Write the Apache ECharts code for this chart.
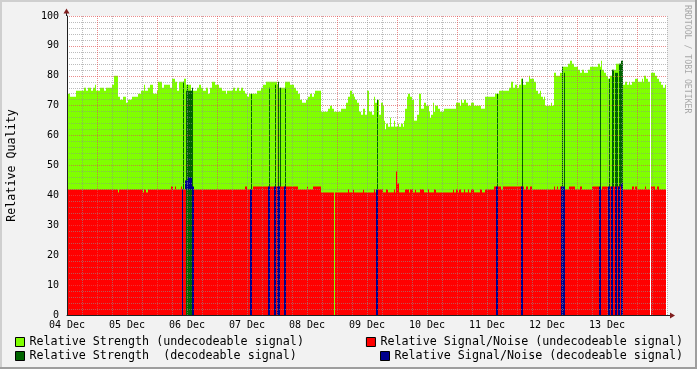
<!DOCTYPE html>
<html><head><meta charset="utf-8">
<script src="https://cdn.jsdelivr.net/npm/echarts@6/dist/echarts.min.js"></script>
<style>html,body{margin:0;padding:0;background:#F2F2F2}#c{width:697px;height:369px}</style>
</head><body><div id="c"></div>
<script>
// x values are hours since 04 Dec 00:00
const dayLabels = ['04 Dec','05 Dec','06 Dec','07 Dec','08 Dec','09 Dec','10 Dec','11 Dec','12 Dec','13 Dec'];
const endHour = 239.6;
const seriesNames = [
  'Relative Strength (undecodeable signal)',
  'Relative Strength  (decodeable signal)',
  'Relative Signal/Noise (undecodeable signal)',
  'Relative Signal/Noise (decodeable signal)'
];
// [hour, value] : value holds until next hour (null = no data)
const strengthSteps = [[0,74],[1.2,73],[3.6,75],[6.8,76],[7.6,75],[8.4,76],[9.6,75],[10.4,76],[11.2,77],[11.6,75],[13.2,76],[14.8,75],[15.6,76],[18,77],[18.8,80],[20.4,73],[21.2,72],[22.4,73],[23.6,71],[24.4,72],[26,73],[28.4,74],[29.6,75],[30.8,77],[31.2,75],[32.4,76],[33.2,77],[34.4,74],[36,75],[36.4,78],[38,76],[38.8,77],[41.2,76],[42,79],[43.2,78],[44,75],[44.8,78],
[46.8,79],[47.6,77],[49.6,75],[52,76],[52.8,77],[53.6,76],[54.4,75],[55.6,76],[56.4,74],[57.2,76],[58,78],[59.2,77],[60.8,76],[62,75],[63.6,74],[64,75],[66.4,76],[67.2,75],[68,76],[68.8,75],[69.6,76],[70.4,75],[71.2,74],[72,73],[72.8,74],[76,75],[77.6,76],[78.4,77],[79.6,78],[84,77],[84.8,76],[87.2,78],[89.2,77],[90.8,76],[91.6,75],[92.4,74],[93.2,72],
[94,71],[95.6,72],[96.4,73],[97.2,74],[98,73],[98.8,74],[99.2,75],[101.6,68],[104.4,69],[105.2,70],[106,69],[106.8,68],[109.6,69],[111.6,71],[112.4,73],[113.2,75],[114,74],[114.8,73],[115.2,72],[116,71],[116.8,68],[117.6,67],[118.4,69],[119.2,67],[120,75],[120.8,68],[122,67],[122.8,73],[123.2,71],[124,72],[124.8,67],[125.6,71],[126.4,70],[126.8,65],[127.2,62],[127.6,64],[128.4,63],[129.2,66],[129.6,63],[130.8,65],[131.2,63],[132.4,64],[132.8,63],[133.6,64],[134.4,63],[134.8,65],[135.2,69],[136,73],[136.4,74],[137.2,73],[138,72],[138.8,65],[140,67],[140.8,74],[141.6,69],[142.8,71],[143.6,70],
[144.8,68],[145.2,66],[145.6,67],[146.4,71],[146.8,68],[147.2,70],[148.4,69],[149.2,68],[150.8,69],[155.6,71],[157.2,70],[157.6,72],[158,71],[158.8,72],[159.6,71],[160.4,70],[161.6,71],[162.8,70],[165.6,69],[167.2,73],[171.2,74],[172.8,75],[176.8,76],[177.6,78],[178.4,76],[179.2,77],[180,76],[180.8,77],[181.6,79],[182.4,77],[183.6,78],[184.8,80],[185.2,79],[186.8,78],[187.6,75],[188.4,74],[189.2,75],[189.6,73],[190.4,72],[190.8,73],[191.2,70],[193.6,71],[194,70],
[194.8,81],[195.6,80],[197.2,81],[198.4,83],[200.4,84],[201.2,85],[202,84],[202.8,83],[204.4,82],[205.2,81],[206,82],[206.8,81],[208.4,82],[209.2,83],[212.4,84],[213.2,83],[213.6,85],[214,82],[214.8,81],[215.6,80],[216.4,79],[217.2,80],[218,82],[219.6,84],[222.4,77],[223.2,78],[224,77],[224.8,78],[225.2,77],[226,78],[227.2,79],[228.4,78],[230,79],[230.4,78],[230.8,80],[231.6,79],[232.4,78],[233.2,null],[233.6,81],[235.2,80],[236,79],[236.8,78],[237.6,77],[238.4,76],[239.2,77]];
const snrSteps = [[0,42],[20.4,41],[20.8,42],[30.4,41],[30.8,42],[31.6,41],[32.4,42],[41.6,43],[42.4,42],[43.2,43],[43.6,42],[45.6,43],[46,42],[47.6,null],[50,42],[71.2,43],[72,42],[74.4,43],[92.4,42],[96,43],[96.4,42],[98.4,43],[101.6,41],[106.8,null],[107.2,41],[112.4,42],[112.8,41],[114.4,42],[114.8,41],[118.4,42],[118.8,41],[122.8,42],[123.2,41],[124.4,42],[126.4,41],[127.6,42],[128.4,41],[130.8,42],[131.2,41],[131.6,48],[132,44],[132.8,41],[135.2,42],[136.8,41],[137.2,42],[138.4,41],[139.2,42],[139.6,41],[141.2,42],[142.8,41],[144.4,42],[144.8,41],[146.8,42],[147.6,41],[154.4,42],[154.8,41],[155.6,42],[156.4,41],[156.8,42],[157.6,41],[158.8,42],[159.2,41],[160.4,42],[160.8,41],[161.6,42],[162.8,41],[165.2,42],[166,41],[167.2,42],[170.8,43],[173.6,42],[174.4,43],[182.8,42],[183.6,43],[184.4,42],[185.2,43],[186,42],[194.8,43],[195.2,42],[196,43],[196.4,42],[197.2,43],[198,42],[200.8,43],[203.2,42],[205.2,43],[206,42],[210,43],[212.8,42],[214,43],[216.4,42],[217.2,43],[222.4,42],[226,43],[226.8,42],[227.2,43],[228,42],[231.2,43],[231.6,42],[233.2,null],[233.6,43],[235.2,42],[236,43],[236.8,42]];
// [startHour, endHour, top]
const decodedStrength = [[46.4,46.8,78],[47.6,50.0,75],[48.0,48.4,77],[50.0,50.4,76],[73.6,74.0,74],[80.8,81.2,76],[83.2,83.6,77],[84.4,84.8,78],[85.2,85.6,76],[87.2,87.6,76],[124.0,124.4,72],[172.0,172.4,74],[182.0,182.4,79],[198.0,198.4,83],[198.8,199.2,81],[213.2,213.6,82],[216.8,217.2,79],[218.0,218.8,82],[219.2,220.4,81],[220.8,221.6,84],[221.6,222.4,85]];
// [startHour, endHour, bottom, top]
const decodedSnr = [[46.0,46.4,0,42],[47.2,48.4,42,45],[48.4,50.0,42,46],[50.0,50.8,0,43],[73.2,74.0,0,42],[80.4,81.2,0,43],[82.8,83.6,0,43],[84.0,85.2,0,43],[86.8,87.6,0,43],[123.6,124.4,0,42],[171.6,172.4,0,43],[181.6,182.4,0,43],[197.6,199.2,0,43],[212.8,213.6,0,43],[216.4,217.2,0,43],[217.6,218.4,0,43],[219.2,220.0,0,43],[220.4,221.2,0,43],[221.6,222.4,0,44]];

function stepsToRects(steps, end) {
  const out = [];
  for (let i = 0; i < steps.length; i++) {
    const v = steps[i][1];
    const h1 = i + 1 < steps.length ? steps[i + 1][0] : end;
    if (v !== null) out.push([steps[i][0], h1, 0, v]);
  }
  return out;
}
function rectItem(params, api) {
  const a = api.coord([api.value(0), api.value(3)]);
  const b = api.coord([api.value(1), api.value(2)]);
  return { type: 'rect', shape: { x: a[0], y: a[1], width: b[0] - a[0], height: b[1] - a[1] },
           style: { fill: api.visual('color') } };
}
const colors = ['#80FF00', '#006400', '#FF0000', '#00008C'];
const datas = [
  stepsToRects(strengthSteps, endHour),
  decodedStrength.map(d => [d[0], d[1], 0, d[2]]),
  stepsToRects(snrSteps, endHour),
  decodedSnr
];
const series = seriesNames.map((n, i) => ({
  type: 'custom', name: n, renderItem: rectItem, data: datas[i],
  encode: { x: [0, 1], y: [2, 3] }, itemStyle: { color: colors[i] },
  clip: true, silent: true, animation: false
}));
const FONT = 'DejaVu Sans Mono';
const GRAY = 'rgba(143,143,143,0.6)', RED = 'rgba(222,79,79,0.65)';
const legendText = { fontFamily: FONT, fontSize: 11.7, color: '#000' };
function legend(i, pos) {
  return Object.assign({ data: [seriesNames[i]], orient: 'horizontal', padding: 0, itemWidth: 9, itemHeight: 9,
    icon: 'rect', selectedMode: false, itemStyle: { borderColor: '#000', borderWidth: 1 },
    textStyle: legendText }, pos);
}
const chart = echarts.init(document.getElementById('c'));
chart.setOption({
  backgroundColor: '#F2F2F2',
  animation: false,
  grid: { left: 67, right: 30, top: 16, bottom: 54, show: true, backgroundColor: '#FFFFFF', borderWidth: 0,
          containLabel: false, outerBoundsMode: 'none' },
  xAxis: {
    type: 'value', min: 0, max: 240, interval: 6, z: 10,
    axisLine: { show: true, lineStyle: { color: '#1F1F1F', width: 1 } },
    axisTick: { show: false },
    axisLabel: { fontFamily: FONT, fontSize: 10, color: '#000', margin: 5, hideOverlap: false,
      formatter: v => (v % 24 === 0 && v / 24 < dayLabels.length) ? dayLabels[v / 24] : '' },
    splitLine: { show: true, lineStyle: { color: [GRAY, GRAY, RED, GRAY], type: [1, 1], width: 1 } }
  },
  yAxis: {
    type: 'value', min: 0, max: 100, interval: 2, z: 10, offset: 1,
    name: 'Relative Quality', nameLocation: 'middle', nameRotate: 90, nameGap: 48,
    nameTextStyle: { fontFamily: FONT, fontSize: 11.7, color: '#000' },
    axisLine: { show: true, lineStyle: { color: '#1F1F1F', width: 1 } },
    axisTick: { show: false },
    axisLabel: { fontFamily: FONT, fontSize: 10, color: '#000', margin: 7,
      formatter: v => (v % 10 === 0) ? String(v) : '' },
    splitLine: { show: true, lineStyle: { color: [RED, GRAY, GRAY, GRAY, GRAY], type: [1, 1], width: 1 } }
  },
  legend: [
    legend(0, { left: 15, top: 336 }),
    legend(1, { left: 15, top: 350 }),
    legend(2, { right: 14, top: 336 }),
    legend(3, { right: 14, top: 350 })
  ],
  series: series,
  graphic: [
    { type: 'rect', shape: { x: 0, y: 0, width: 697, height: 2 }, style: { fill: '#CFCFCF' }, silent: true },
    { type: 'rect', shape: { x: 0, y: 0, width: 2, height: 369 }, style: { fill: '#CFCFCF' }, silent: true },
    { type: 'rect', shape: { x: 0, y: 367, width: 697, height: 2 }, style: { fill: '#9E9E9E' }, silent: true },
    { type: 'rect', shape: { x: 695, y: 0, width: 2, height: 369 }, style: { fill: '#9E9E9E' }, silent: true },
    { type: 'line', shape: { x1: 66.5, y1: 12, x2: 66.5, y2: 16 }, style: { stroke: '#1F1F1F', lineWidth: 1 }, z: 20, silent: true },
    { type: 'polygon', shape: { points: [[66.5, 8.5], [63.5, 13.5], [69.5, 13.5]] }, style: { fill: '#801F1F' }, z: 20, silent: true },
    { type: 'line', shape: { x1: 667, y1: 315.5, x2: 671, y2: 315.5 }, style: { stroke: '#1F1F1F', lineWidth: 1 }, z: 20, silent: true },
    { type: 'polygon', shape: { points: [[675, 315.5], [670, 312.5], [670, 318.5]] }, style: { fill: '#801F1F' }, z: 20, silent: true },
    { type: 'text', x: 687.5, y: 5, rotation: -Math.PI / 2, silent: true,
      style: { text: 'RRDTOOL / TOBI OETIKER', fill: '#A8A8A8', font: '8.2px "DejaVu Sans Mono"', textAlign: 'left', textVerticalAlign: 'middle' } }
  ]
});
</script></body></html>
